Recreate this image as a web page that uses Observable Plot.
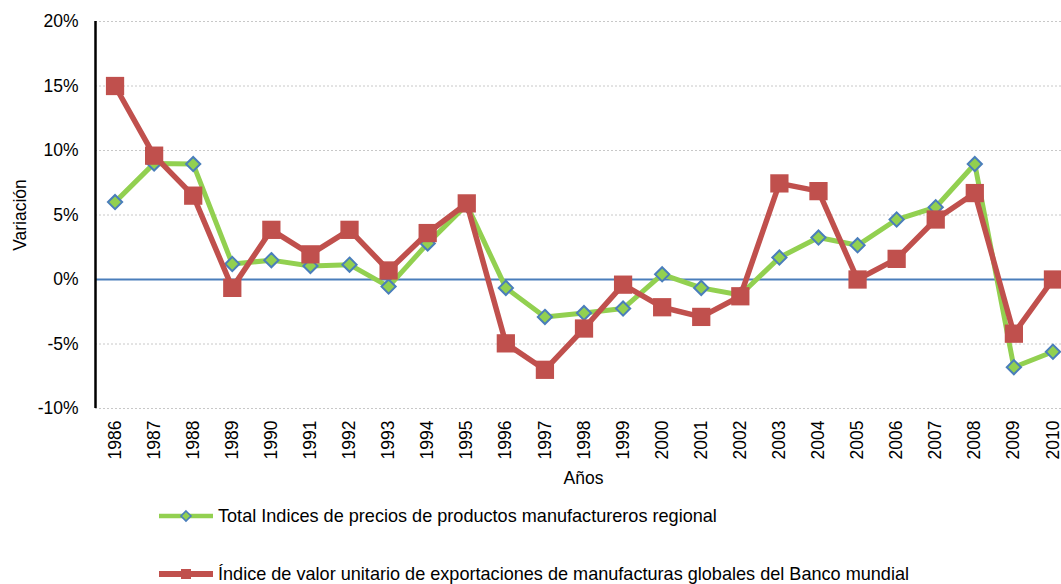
<!DOCTYPE html>
<html>
<head>
<meta charset="utf-8">
<script src="https://cdn.jsdelivr.net/npm/d3@7"></script>
<script src="https://cdn.jsdelivr.net/npm/@observablehq/plot@0.6"></script>
<style>
  html, body { margin: 0; padding: 0; background: #fff; overflow: hidden; }
  body { width: 1061px; height: 584px; font-family: "Liberation Sans", Arial, sans-serif; color: #000; }
  #legend { position: relative; height: 89px; }
  .item { position: absolute; left: 159px; display: flex; align-items: center; height: 30px; font-size: 18.1px; white-space: nowrap; }
  .item svg { display: block; margin-right: 5px; }
</style>
</head>
<body>
<div id="chart"></div>
<div id="legend"></div>
<script>
const years = [1986,1987,1988,1989,1990,1991,1992,1993,1994,1995,1996,1997,1998,1999,2000,2001,2002,2003,2004,2005,2006,2007,2008,2009,2010];
const regional = [6.0, 9.0, 8.95, 1.2, 1.5, 1.05, 1.15, -0.55, 2.8, 5.8, -0.65, -2.9, -2.6, -2.25, 0.4, -0.65, -1.2, 1.7, 3.25, 2.65, 4.65, 5.6, 8.95, -6.8, -5.6];
const bancoMundial = [15.0, 9.6, 6.5, -0.65, 3.85, 1.95, 3.85, 0.7, 3.6, 5.9, -4.95, -7.0, -3.8, -0.4, -2.15, -2.9, -1.3, 7.45, 6.85, 0.0, 1.6, 4.65, 6.7, -4.2, 0.0];
const yTicks = [-10, -5, 0, 5, 10, 15, 20];
const seriesNames = [
  "Total Indices de precios de productos manufactureros regional",
  "Índice de valor unitario de exportaciones de manufacturas globales del Banco mundial"
];
const xTitle = "Años";
const yTitle = "Variación";

const green = "#92D050", blue = "#4A7EBB", red = "#C0504D";
const gData = years.map((y, i) => ({year: y, v: regional[i]}));
const rData = years.map((y, i) => ({year: y, v: bancoMundial[i]}));

const chart = Plot.plot({
  width: 1061,
  height: 495,
  marginLeft: 95,
  marginRight: 0,
  marginTop: 21,
  marginBottom: 87,
  style: {fontFamily: "'Liberation Sans', Arial, sans-serif", fontSize: "17px", color: "#000", background: "#fff"},
  x: {domain: [1985.5, 2010.5], range: [95, 1072]},
  y: {domain: [-10, 20]},
  marks: [
    Plot.gridY(yTicks, {stroke: "#c8c8c8", strokeOpacity: 1, strokeWidth: 1, strokeDasharray: "2,2"}),
    Plot.ruleY([0], {stroke: blue, strokeWidth: 2}),
    Plot.ruleX([1985.5], {y1: -10, y2: 20, stroke: "#000", strokeWidth: 2.5}),
    Plot.axisY(yTicks, {tickSize: 0, tickPadding: 17, fontSize: 17.5, tickFormat: d => d + "%", label: null}),
    Plot.axisX(years, {tickSize: 0, tickPadding: 12, tickRotate: -90, fontSize: 17.5, tickFormat: d => String(d), label: null}),
    Plot.text([xTitle], {frameAnchor: "bottom", dy: 75, dx: 5, fontSize: 17.5}),
    Plot.text([yTitle], {frameAnchor: "left", textAnchor: "middle", dx: -75, rotate: -90, fontSize: 17.5}),
    Plot.line(gData, {x: "year", y: "v", stroke: green, strokeWidth: 5}),
    Plot.dot(gData, {x: "year", y: "v", symbol: "diamond2", r: 6.4, fill: green, stroke: blue, strokeWidth: 2}),
    Plot.line(rData, {x: "year", y: "v", stroke: red, strokeWidth: 5.5}),
    Plot.dot(rData, {x: "year", y: "v", symbol: "square", r: 10.3, fill: red, stroke: "none"})
  ]
});
document.getElementById("chart").appendChild(chart);

const legend = document.getElementById("legend");
const items = [
  {name: seriesNames[0], top: 6, swatch: `<svg width="54" height="20"><line x1="0" y1="10" x2="54" y2="10" stroke="${green}" stroke-width="4.5"/><path d="M27,5 L32,10 L27,15 L22,10 Z" fill="${green}" stroke="${blue}" stroke-width="1.6"/></svg>`},
  {name: seriesNames[1], top: 64, swatch: `<svg width="54" height="20"><line x1="0" y1="10" x2="54" y2="10" stroke="${red}" stroke-width="6"/><rect x="22" y="5" width="10" height="10" fill="${red}"/></svg>`}
];
for (const it of items) {
  const div = document.createElement("div");
  div.className = "item";
  div.style.top = it.top + "px";
  div.innerHTML = it.swatch + `<span>${it.name}</span>`;
  legend.appendChild(div);
}
</script>
</body>
</html>
